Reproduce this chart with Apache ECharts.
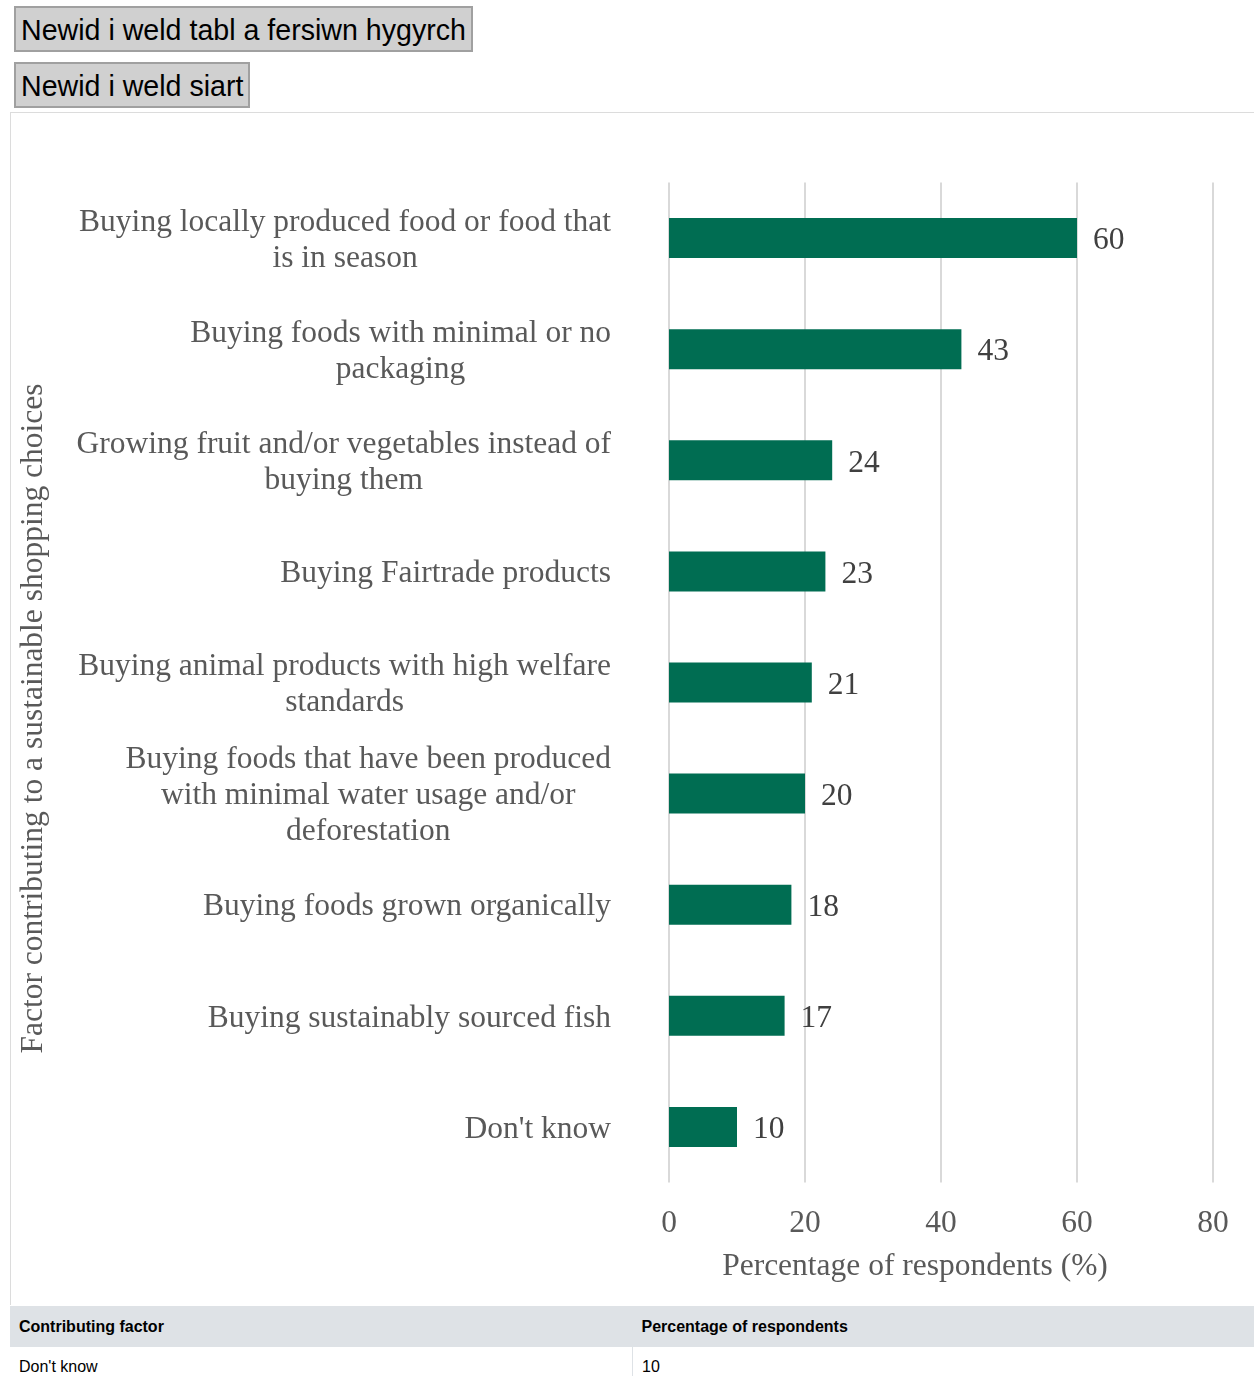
<!DOCTYPE html>
<html>
<head>
<meta charset="utf-8">
<script src="https://cdn.jsdelivr.net/npm/echarts@6/dist/echarts.min.js"></script>
<style>
  html, body { margin: 0; padding: 0; overflow: hidden; background: #fff; }
  body { width: 1254px; height: 1376px; position: relative; font-family: "Liberation Sans", Arial, sans-serif; }
  .btn {
    position: absolute; left: 14px; height: 46px; box-sizing: border-box;
    background: #d0d0d0; border: 2px solid #a0a0a0; color: #000;
    font-family: "Liberation Sans", Arial, sans-serif; font-size: 28.6px;
    padding: 0 5px; line-height: 44px; white-space: nowrap;
  }
  #chartBox {
    position: absolute; left: 10px; top: 112px; width: 1260px; height: 1193px;
    border-left: 1px solid #dcdcdc; border-top: 1px solid #dcdcdc; box-sizing: border-box;
  }
  #divBar { position: absolute; left: 0; top: 0; width: 1244px; height: 1192px; }
  table {
    position: absolute; left: 10px; top: 1306px; width: 1260px; border-collapse: collapse;
    font-family: "Liberation Sans", Arial, sans-serif; font-size: 16px; color: #000;
  }
  th { background: #dee2e6; text-align: left; font-weight: bold; height: 41px; padding: 0 9px; }
  td { height: 36px; padding: 2px 9px 0 9px; border-right: 1px solid #dee2e6; }
  th:first-child, td:first-child { width: 604px; }
</style>
</head>
<body>
<div class="btn" style="top:6px;">Newid i weld tabl a fersiwn hygyrch</div>
<div class="btn" style="top:62px;">Newid i weld siart</div>
<div id="chartBox"><div id="divBar"></div></div>
<table id="tbl">
  <thead><tr><th>Contributing factor</th><th>Percentage of respondents</th></tr></thead>
  <tbody></tbody>
</table>
<script>
var categories = [
    'Buying locally produced food or food that\nis in season',
    'Buying foods with minimal or no\npackaging',
    'Growing fruit and/or vegetables instead of\nbuying them',
    'Buying Fairtrade products',
    'Buying animal products with high welfare\nstandards',
    'Buying foods that have been produced\nwith minimal water usage and/or\ndeforestation',
    'Buying foods grown organically',
    'Buying sustainably sourced fish',
    "Don't know"
];
var percentages = [60, 43, 24, 23, 21, 20, 18, 17, 10];
var xTicks = [0, 20, 40, 60, 80];

var serif = '"Liberation Serif", "Times New Roman", serif';

function bar_init() {
    var chartDom = document.getElementById('divBar');
    var barChart = echarts.init(chartDom);
    var barOption = {
        animation: false,
        grid: {
          left: 658,
          top: 69.5,
          width: 544,
          height: 1000,
          containLabel: false,
          outerBoundsMode: 'none'
        },
        xAxis: {
          type: 'value',
          min: xTicks[0],
          max: xTicks[xTicks.length - 1],
          interval: 20,
          name: 'Percentage of respondents (%)',
          nameLocation: 'middle',
          nameGap: 68,
          nameTextStyle: {
            fontFamily: serif,
            fontSize: 31.5,
            color: '#595959',
            padding: [0, 52, 0, 0]
          },
          axisLine: { show: false },
          axisTick: { show: false },
          axisLabel: {
            margin: 25,
            fontFamily: serif,
            fontSize: 31.5,
            color: '#595959'
          },
          splitLine: {
            show: true,
            lineStyle: { color: '#d9d9d9', width: 2 }
          }
        },
        yAxis: {
          type: 'category',
          inverse: true,
          data: categories,
          name: 'Factor contributing to a sustainable shopping choices',
          nameLocation: 'middle',
          nameGap: 619,
          nameRotate: 90,
          nameTextStyle: {
            fontFamily: serif,
            fontSize: 31.5,
            color: '#595959',
            padding: [0, 72, 0, 0]
          },
          axisLine: { show: false },
          axisTick: { show: false },
          axisLabel: {
            margin: 58,
            interval: 0,
            padding: [5, 0, 0, 0],
            formatter: function (value) {
              return value.split('\n').map(function (l) { return '{c|' + l + '}'; }).join('\n');
            },
            rich: {
              c: {
                align: 'center',
                fontFamily: serif,
                fontSize: 31.5,
                lineHeight: 36,
                color: '#595959'
              }
            }
          }
        },
        series: [
          {
            type: 'bar',
            data: percentages,
            barWidth: 40,
            itemStyle: { color: '#006d52' },
            label: {
              show: true,
              position: 'right',
              distance: 16,
              offset: [0, 3],
              fontFamily: serif,
              fontSize: 31.5,
              color: '#404040'
            }
          }
        ]
    };
    barChart.setOption(barOption);
}

function table_init() {
    var body = document.querySelector('#tbl tbody');
    for (var i = categories.length - 1; i >= 0; --i) {
        var tr = document.createElement('tr');
        var a = document.createElement('td');
        a.textContent = categories[i].replace(/\n/g, ' ');
        var b = document.createElement('td');
        b.textContent = percentages[i];
        tr.appendChild(a);
        tr.appendChild(b);
        body.appendChild(tr);
    }
}

bar_init();
table_init();
</script>
</body>
</html>
